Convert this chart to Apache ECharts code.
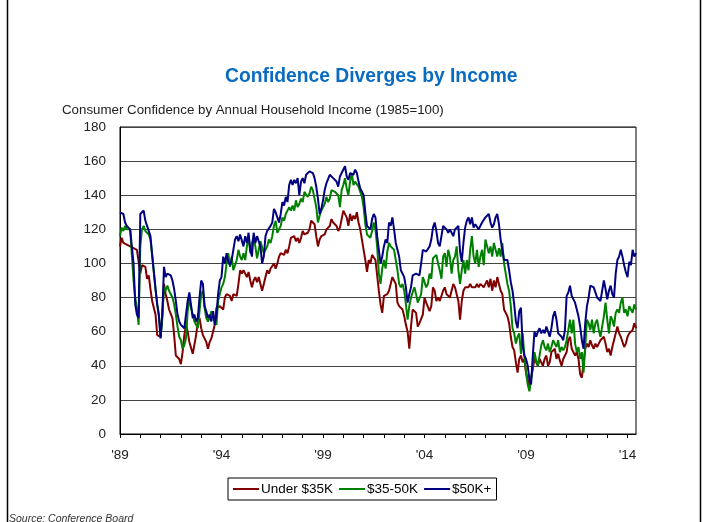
<!DOCTYPE html>
<html>
<head>
<meta charset="utf-8">
<script src="https://cdn.jsdelivr.net/npm/echarts@6/dist/echarts.min.js"></script>
<style>
  html, body { margin: 0; padding: 0; background: #fff; }
  #chart { width: 707px; height: 522px; }
</style>
</head>
<body>
<div id="chart"></div>
<script>
// monthly index values, Jan 1989 - Jun 2014
const firstYear = 1989;

const under35 = [
  110, 115, 112, 111, 111, 110, 110, 109, 109, 108, 108, 107,
  94, 99, 100, 98, 91, 93, 85, 78, 78, 70, 58, 57,
  57, 70, 88, 82, 78, 73, 74, 68, 58, 46, 45, 44,
  41, 48, 58, 64, 60, 54, 53, 47, 48, 58, 66, 68,
  62, 58, 59, 54, 50, 54, 56, 57, 64, 74, 75, 75,
  75, 73, 80, 82, 83, 81, 78, 82, 82, 81, 88, 96,
  94, 96, 94, 92, 95, 90, 86, 90, 92, 89, 92, 88,
  84, 88, 92, 96, 94, 97, 98, 100, 97, 100, 104, 106,
  106, 105, 108, 106, 110, 115, 114, 116, 113, 115, 112, 115,
  119, 117, 116, 118, 120, 125, 126, 123, 116, 110, 114, 116,
  116, 117, 120, 121, 122, 126, 124, 123, 122, 119, 121, 126,
  131, 130, 127, 122, 129, 125, 128, 126, 130, 124, 120, 114,
  108, 102, 95, 102, 100, 105, 104, 102, 101, 84, 76, 71,
  81, 80, 82, 84, 88, 92, 90, 88, 77, 75, 75, 73,
  69, 64, 60, 50, 63, 73, 72, 71, 63, 65, 65, 70,
  80, 77, 76, 72, 75, 86, 84, 78, 80, 78, 77, 84,
  86, 82, 83, 80, 84, 88, 86, 82, 78, 67, 78, 84,
  86, 87, 86, 88, 86, 87, 86, 88, 86, 88, 89, 86,
  88, 90, 86, 91, 84, 90, 86, 92, 88, 84, 82, 73,
  71, 69, 65, 57, 51, 49, 42, 36, 44, 46, 42, 44,
  36, 32, 27, 28, 38, 44, 42, 40, 44, 43, 40, 44,
  46, 40, 42, 48, 47, 50, 44, 47, 43, 40, 44, 46,
  48, 55, 57, 50, 51, 46, 48, 44, 35, 33, 42, 50,
  53, 51, 55, 52, 50, 53, 51, 53, 55, 54, 57, 53,
  48, 50, 46, 51, 55, 59, 63, 59, 57, 56, 51, 53,
  57, 59, 58, 61, 65, 62
];

const mid3550 = [
  116, 121, 119, 122, 120, 121, 120, 105, 90, 80, 74, 64,
  110, 120, 122, 119, 120, 117, 114, 105, 95, 85, 76, 70,
  57, 68, 86, 84, 87, 84, 85, 80, 76, 70, 63, 57,
  55, 50, 52, 56, 72, 79, 74, 70, 66, 64, 62, 72,
  82, 84, 74, 68, 66, 68, 72, 70, 66, 64, 78, 82,
  86, 88, 92, 100, 106, 98, 104, 96, 96, 102, 108, 104,
  102, 106, 102, 110, 116, 106, 112, 116, 110, 103, 108, 113,
  114, 106, 108, 110, 114, 112, 116, 122, 125, 118, 119, 122,
  127, 125, 129, 130, 133, 131, 134, 131, 137, 133, 135, 138,
  136, 142, 143, 139, 141, 145, 143, 138, 133, 124, 128, 131,
  131, 135, 139, 136, 138, 143, 144, 142, 143, 140, 133, 143,
  146, 150, 144, 140, 148, 153, 146, 148, 147, 145, 142, 139,
  133, 123, 117, 118, 115, 119, 124, 120, 110, 94, 88, 97,
  102, 97, 107, 112, 110, 111, 108, 107, 96, 88, 86, 88,
  84, 76, 67, 75, 80, 83, 86, 82, 77, 78, 82, 92,
  93, 86, 88, 94, 91, 103, 102, 105, 100, 96, 91, 104,
  106, 98, 108, 104, 94, 102, 104, 110, 96, 88, 96, 102,
  94, 102, 96, 108, 116, 104, 100, 108, 98, 104, 108, 99,
  114, 115, 106, 110, 104, 112, 108, 104, 109, 104, 112, 100,
  94, 88, 84, 75, 62, 59, 53, 57, 59, 47, 59, 46,
  36, 29, 25, 26, 40, 48, 43, 40, 46, 52, 55, 51,
  49, 53, 48, 51, 55, 53, 51, 55, 48, 51, 49, 51,
  55, 61, 67, 59, 67, 53, 48, 51, 44, 48, 36, 51,
  67, 65, 61, 67, 59, 65, 67, 61, 57, 63, 69, 77,
  67, 59, 69, 67, 63, 71, 73, 71, 77, 80, 71, 73,
  69, 75, 73, 71, 76, 73
];

const over50 = [
  130, 130, 129, 124, 122, 121, 120, 119, 100, 76, 70, 68,
  129, 130, 131, 125, 122, 121, 116, 105, 95, 85, 76, 69,
  56, 70, 98, 92, 94, 93, 93, 90, 85, 78, 70, 66,
  64, 63, 62, 61, 78, 83, 82, 68, 70, 66, 68, 80,
  90, 88, 75, 72, 68, 70, 66, 72, 64, 70, 82, 90,
  92, 104, 100, 106, 101, 99, 102, 108, 114, 116, 113, 117,
  116, 110, 116, 112, 118, 108, 104, 118, 112, 116, 117, 110,
  100, 104, 116, 119, 120, 122, 124, 132, 130, 127, 124, 129,
  136, 134, 139, 136, 146, 149, 146, 149, 147, 150, 140, 148,
  150, 147, 152, 153, 154, 154, 153, 150, 145, 138, 129, 132,
  137, 143, 147, 148, 152, 152, 150, 151, 148, 145, 151, 153,
  152, 157, 151, 149, 153, 154, 152, 155, 153, 148, 144, 142,
  140, 130, 122, 123, 120, 126, 129, 127, 116, 108, 100, 104,
  110, 114, 112, 124, 122, 127, 120, 112, 108, 104, 96, 94,
  92, 86, 77, 82, 86, 93, 93, 94, 93, 93, 100, 108,
  108, 107, 106, 110, 114, 121, 124, 119, 112, 110, 116, 122,
  122, 120, 118, 120, 119, 116, 120, 121, 122, 107, 101, 112,
  121, 125, 127, 123, 127, 121, 123, 124, 120, 121, 124, 125,
  127, 128, 129, 124, 121, 123, 127, 129, 123, 114, 108, 102,
  102, 102, 96, 89, 84, 76, 66, 62, 72, 74, 52, 46,
  44, 40, 32, 29, 46, 60, 57, 60, 62, 59, 61, 59,
  63, 64, 57, 62, 69, 72, 67, 59, 59, 57, 55, 61,
  81, 83, 87, 81, 82, 77, 73, 69, 63, 55, 50, 65,
  75, 80, 87, 88, 86, 83, 80, 81, 78, 84, 90, 85,
  79, 84, 87, 82, 80, 94, 102, 104, 108, 104, 99, 95,
  92, 101, 99, 108, 104, 106
];

const seriesNames = ['Under $35K', '$35-50K', '$50K+'];
const xTickLabels = ["'89", "'94", "'99", "'04", "'09", "'14"];

const months = [];
for (let i = 0; i < under35.length; i++) {
  const m = i % 12 + 1;
  months.push((firstYear + Math.floor(i / 12)) + '-' + (m < 10 ? '0' + m : m));
}

const font = 'Liberation Sans';
const chart = echarts.init(document.getElementById('chart'));

chart.setOption({
  backgroundColor: '#fff',
  animation: false,
  title: [{
    text: 'Confidence Diverges by Income',
    left: 220,
    top: 62,
    textStyle: { fontFamily: font, fontSize: 19.3, fontWeight: 'bold', color: '#0a6cc0' },
  }, {
    text: 'Consumer Confidence by Annual Household Income (1985=100)',
    left: 57,
    top: 99,
    textStyle: { fontFamily: font, fontSize: 13.3, fontWeight: 'normal', color: '#222' },
  }, {
    text: 'Source: Conference Board',
    left: 4,
    top: 509,
    textStyle: { fontFamily: font, fontSize: 10.5, fontStyle: 'italic', fontWeight: 'normal', color: '#333' },
  }],
  graphic: [{
    type: 'rect',
    shape: { x: 7.5, y: -10, width: 693, height: 560 },
    style: { fill: null, stroke: '#000', lineWidth: 1.5 },
    silent: true,
  }],
  legend: {
    data: seriesNames,
    left: 228,
    top: 478,
    orient: 'horizontal',
    icon: 'rect',
    itemWidth: 26,
    itemHeight: 2,
    itemGap: 6,
    padding: [4, 5],
    borderColor: '#000',
    borderWidth: 1,
    textStyle: { fontFamily: font, fontSize: 13.5, color: '#000', padding: [0, 0, 0, -3] },
  },
  grid: {
    left: 120,
    right: 71,
    top: 127,
    bottom: 88,
    show: true,
    borderColor: '#000',
    borderWidth: 1,
    backgroundColor: 'transparent',
  },
  xAxis: {
    type: 'category',
    data: months,
    boundaryGap: false,
    axisLine: { lineStyle: { color: '#000', width: 1 } },
    axisTick: { interval: 11, length: 4, lineStyle: { color: '#000' } },
    axisLabel: {
      interval: 59,
      margin: 14,
      fontFamily: font,
      fontSize: 13.5,
      color: '#222',
      formatter: (val, idx) => xTickLabels[Math.round(idx / 60)],
    },
    splitLine: { show: false },
  },
  yAxis: {
    type: 'value',
    min: 0,
    max: 180,
    interval: 20,
    axisLine: { show: true, lineStyle: { color: '#000' } },
    axisTick: { show: false },
    axisLabel: { margin: 14, fontFamily: font, fontSize: 13.5, color: '#222' },
    splitLine: { lineStyle: { color: '#444', width: 1 } },
  },
  series: [{
    name: seriesNames[0],
    type: 'line',
    data: under35,
    showSymbol: false,
    color: '#800000',
    lineStyle: { width: 2 },
  }, {
    name: seriesNames[1],
    type: 'line',
    data: mid3550,
    showSymbol: false,
    color: '#008000',
    lineStyle: { width: 2 },
  }, {
    name: seriesNames[2],
    type: 'line',
    data: over50,
    showSymbol: false,
    color: '#000080',
    lineStyle: { width: 2 },
  }],
});
</script>
</body>
</html>
